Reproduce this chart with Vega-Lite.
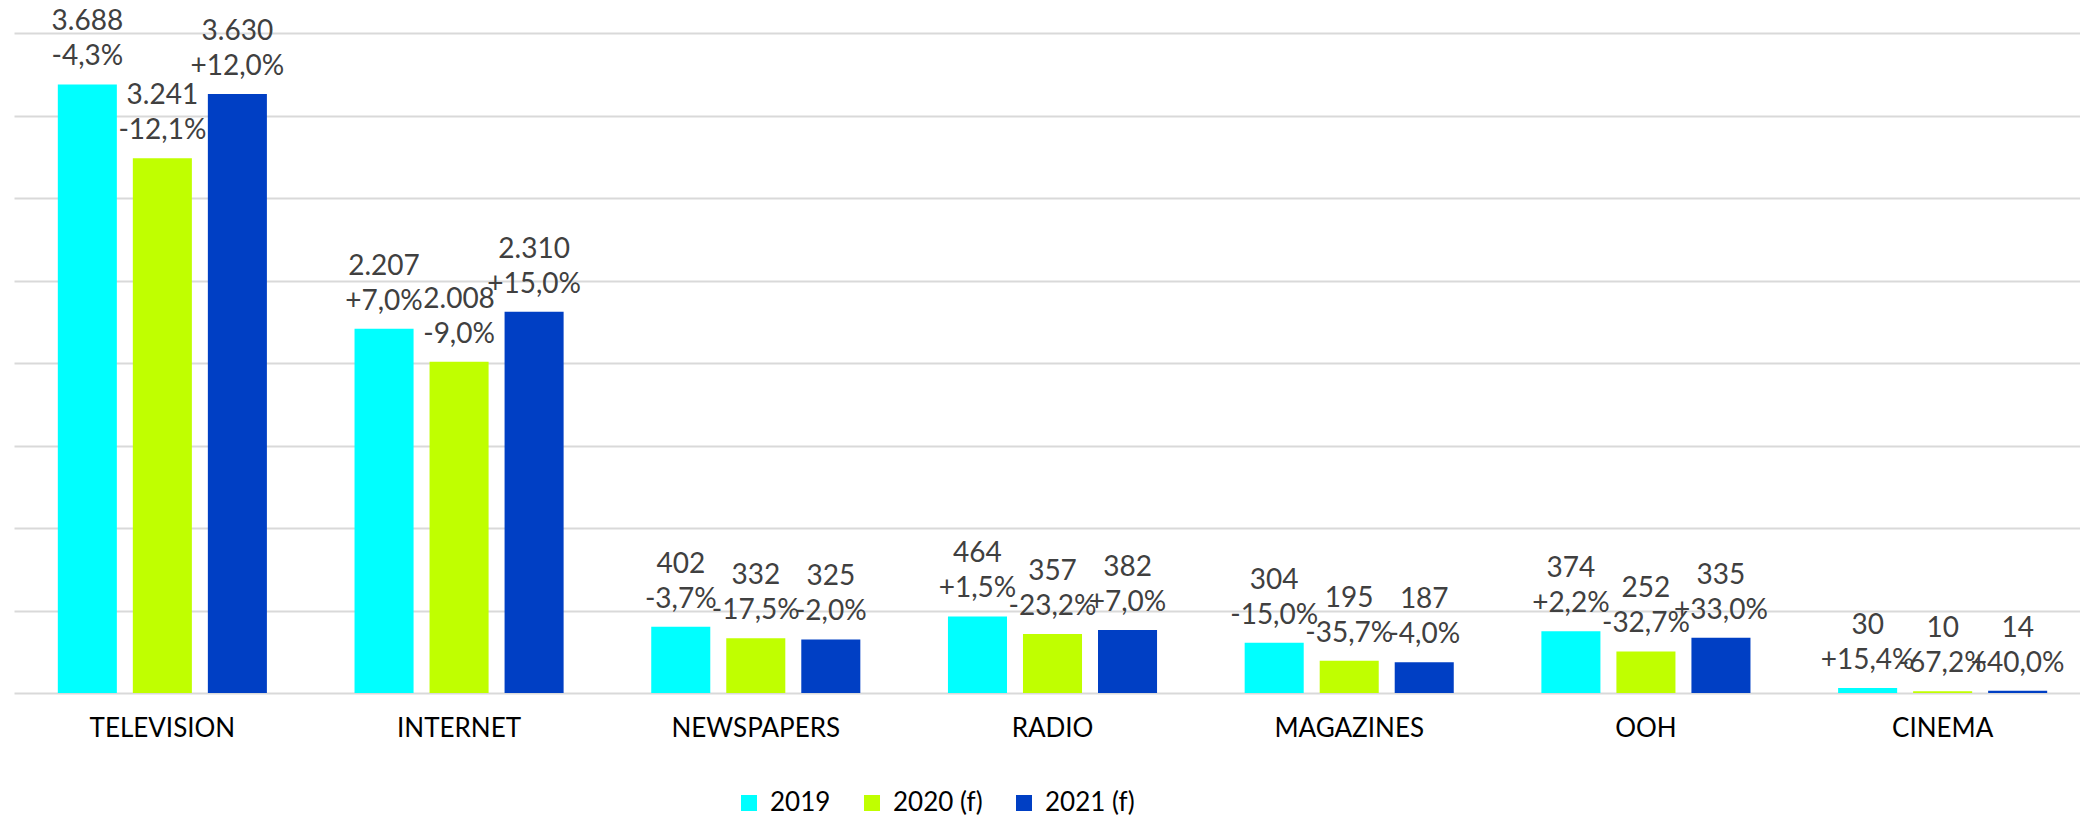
{
  "$schema": "https://vega.github.io/schema/vega-lite/v6.json",
  "autosize": {"type": "none"},
  "width": 2077,
  "height": 660,
  "padding": {"left": 14, "top": 33, "right": 0, "bottom": 126},
  "background": "white",
  "config": {
    "view": {"stroke": null},
    "font": "Lato"
  },
  "data": {
    "values": [
      {"media": "TELEVISION", "year": "2019", "value": 3688, "label": ["3.688", "-4,3%"]},
      {"media": "TELEVISION", "year": "2020 (f)", "value": 3241, "label": ["3.241", "-12,1%"]},
      {"media": "TELEVISION", "year": "2021 (f)", "value": 3630, "label": ["3.630", "+12,0%"]},
      {"media": "INTERNET", "year": "2019", "value": 2207, "label": ["2.207", "+7,0%"]},
      {"media": "INTERNET", "year": "2020 (f)", "value": 2008, "label": ["2.008", "-9,0%"]},
      {"media": "INTERNET", "year": "2021 (f)", "value": 2310, "label": ["2.310", "+15,0%"]},
      {"media": "NEWSPAPERS", "year": "2019", "value": 402, "label": ["402", "-3,7%"]},
      {"media": "NEWSPAPERS", "year": "2020 (f)", "value": 332, "label": ["332", "-17,5%"]},
      {"media": "NEWSPAPERS", "year": "2021 (f)", "value": 325, "label": ["325", "-2,0%"]},
      {"media": "RADIO", "year": "2019", "value": 464, "label": ["464", "+1,5%"]},
      {"media": "RADIO", "year": "2020 (f)", "value": 357, "label": ["357", "-23,2%"]},
      {"media": "RADIO", "year": "2021 (f)", "value": 382, "label": ["382", "+7,0%"]},
      {"media": "MAGAZINES", "year": "2019", "value": 304, "label": ["304", "-15,0%"]},
      {"media": "MAGAZINES", "year": "2020 (f)", "value": 195, "label": ["195", "-35,7%"]},
      {"media": "MAGAZINES", "year": "2021 (f)", "value": 187, "label": ["187", "-4,0%"]},
      {"media": "OOH", "year": "2019", "value": 374, "label": ["374", "+2,2%"]},
      {"media": "OOH", "year": "2020 (f)", "value": 252, "label": ["252", "-32,7%"]},
      {"media": "OOH", "year": "2021 (f)", "value": 335, "label": ["335", "+33,0%"]},
      {"media": "CINEMA", "year": "2019", "value": 30, "label": ["30", "+15,4%"]},
      {"media": "CINEMA", "year": "2020 (f)", "value": 10, "label": ["10", "-67,2%"]},
      {"media": "CINEMA", "year": "2021 (f)", "value": 14, "label": ["14", "+40,0%"]}
    ]
  },
  "encoding": {
    "x": {
      "field": "media",
      "type": "nominal",
      "sort": ["TELEVISION", "INTERNET", "NEWSPAPERS", "RADIO", "MAGAZINES", "OOH", "CINEMA"],
      "scale": {"paddingInner": 0, "paddingOuter": 0},
      "axis": {
        "title": null,
        "labelAngle": 0,
        "ticks": false,
        "domain": false,
        "labelFontSize": 26,
        "labelColor": "#000000",
        "labelPadding": 22
      }
    },
    "xOffset": {
      "field": "year",
      "type": "nominal",
      "scale": {"paddingInner": 0.213, "paddingOuter": 0.584}
    },
    "y": {
      "field": "value",
      "type": "quantitative",
      "scale": {"domain": [0, 4000], "nice": false},
      "axis": {
        "title": null,
        "values": [0, 500, 1000, 1500, 2000, 2500, 3000, 3500, 4000],
        "labels": false,
        "ticks": false,
        "domain": false,
        "gridColor": "#D9D9D9",
        "gridWidth": 2
      }
    }
  },
  "layer": [
    {
      "mark": {"type": "bar"},
      "encoding": {
        "color": {
          "field": "year",
          "type": "nominal",
          "scale": {"domain": ["2019", "2020 (f)", "2021 (f)"], "range": ["#00FFFF", "#C0FF00", "#003FC4"]},
          "legend": {
            "title": null,
            "orient": "none",
            "direction": "horizontal",
            "legendX": 722,
            "legendY": 757,
            "padding": 0,
            "symbolType": "square",
            "symbolSize": 256,
            "symbolStrokeWidth": 0,
            "labelFontSize": 26,
            "labelColor": "#000000",
            "labelOffset": 8,
            "columnPadding": 28
          }
        }
      }
    },
    {
      "mark": {
        "type": "text",
        "baseline": "alphabetic",
        "align": "center",
        "dy": -54,
        "fontSize": 28,
        "lineHeight": 35,
        "color": "#404040"
      },
      "encoding": {
        "text": {"field": "label"}
      }
    }
  ]
}
